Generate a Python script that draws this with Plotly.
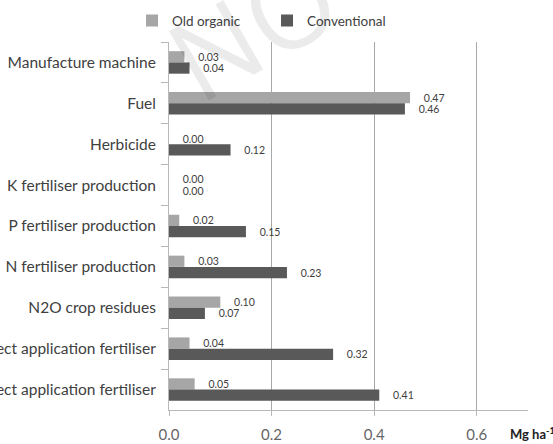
import plotly.graph_objects as go

categories = [
    "Manufacture machine",
    "Fuel",
    "Herbicide",
    "K fertiliser production",
    "P fertiliser production",
    "N fertiliser production",
    "N2O crop residues",
    "N2O indirect application fertiliser",
    "N2O direct application fertiliser",
]
old_organic = [0.03, 0.47, 0.00, 0.00, 0.02, 0.03, 0.10, 0.04, 0.05]
conventional = [0.04, 0.46, 0.12, 0.00, 0.15, 0.23, 0.07, 0.32, 0.41]
x_ticks = [0.0, 0.2, 0.4, 0.6]

FONT = "Lato"
TXT = "#404040"

fig = go.Figure()
fig.add_trace(go.Bar(
    y=categories, x=old_organic, name="Old organic", orientation="h",
    marker=dict(color="#a6a6a6", line=dict(width=0)),
    text=old_organic, texttemplate="    %{x:.2f}", textposition="outside",
    textfont=dict(family=FONT, size=10.5, color=TXT), constraintext="none",
    cliponaxis=False,
))
fig.add_trace(go.Bar(
    y=categories, x=conventional, name="Conventional", orientation="h",
    marker=dict(color="#595959", line=dict(width=0)),
    text=conventional, texttemplate="    %{x:.2f}", textposition="outside",
    textfont=dict(family=FONT, size=10.5, color=TXT), constraintext="none",
    cliponaxis=False,
))

fig.update_layout(
    width=553, height=444,
    margin=dict(l=169, r=25, t=42, b=34, autoexpand=False),
    paper_bgcolor="white", plot_bgcolor="white",
    barmode="group", bargap=0.45, bargroupgap=0,
    font=dict(family=FONT, color=TXT),
    showlegend=True,
    legend=dict(orientation="h", x=-0.103, xanchor="left", y=1.058, yanchor="middle",
                font=dict(family=FONT, size=13.5, color=TXT), entrywidth=90,
                bgcolor="rgba(0,0,0,0)", traceorder="normal"),
    xaxis=dict(
        range=[0, 0.7], tickvals=x_ticks, tickformat=".1f",
        showgrid=True, gridcolor="#a8a8a8", gridwidth=1,
        showline=True, linecolor="#b8b8b8", linewidth=1,
        ticks="outside", ticklen=5, tickcolor="#b8b8b8",
        zeroline=False, tickfont=dict(family=FONT, size=15, color="#666666"),
        ticklabelstandoff=6,
    ),
    yaxis=dict(
        type="category", autorange="reversed",
        showline=True, linecolor="#b8b8b8", linewidth=1,
        ticks="outside", tickson="boundaries", ticklen=7, tickcolor="#b8b8b8",
        showgrid=False, zeroline=False,
        tickfont=dict(family=FONT, size=15.5, color=TXT),
        ticklabelstandoff=9, automargin=False,
    ),
    annotations=[
        dict(text="NO", xref="paper", yref="paper", x=0.231, y=1.046,
             xanchor="center", yanchor="middle", textangle=-30, showarrow=False,
             font=dict(family="Open Sans", size=112, color="rgba(0,0,0,0.08)")),
        dict(text="<b>Mg ha<sup>-1</sup></b>", xref="paper", yref="paper",
             x=0.944, y=-0.065, xanchor="left", yanchor="middle", showarrow=False,
             font=dict(family=FONT, size=13, color="#222222")),
    ],
)

fig.write_html("out.html", post_script="document.body.style.margin='0';",
               config={"displayModeBar": False})
